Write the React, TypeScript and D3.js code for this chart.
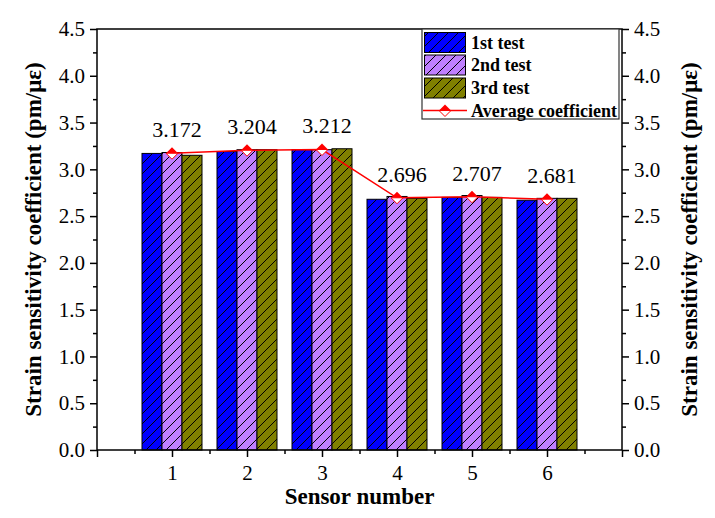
import React, { useEffect, useRef } from 'react';
import * as d3 from 'd3';

const sensors = [1, 2, 3, 4, 5, 6];
const firstTest = [3.17, 3.19, 3.21, 2.68, 2.7, 2.67];
const secondTest = [3.18, 3.21, 3.21, 2.71, 2.72, 2.69];
const thirdTest = [3.15, 3.21, 3.22, 2.69, 2.7, 2.69];
const averageCoef = [3.172, 3.204, 3.212, 2.696, 2.707, 2.681];
const seriesNames = ['1st test', '2nd test', '3rd test'];
const seriesColors = ['#0000ff', '#bf7fff', '#808000'];
const lineName = 'Average coefficient';
const yTitle = 'Strain sensitivity coefficient (pm/\u03bc\u03b5)';
const xTitle = 'Sensor number';

const FONT = "'Liberation Serif', 'Times New Roman', Times, serif";

export default function App() {
  const ref = useRef<SVGSVGElement>(null);

  useEffect(() => {
    const width = 715;
    const height = 518;
    const margin = { top: 29, right: 93, bottom: 68, left: 97 };
    const innerW = width - margin.left - margin.right;
    const innerH = height - margin.top - margin.bottom;

    const svg = d3.select(ref.current);
    svg.selectAll('*').remove();
    svg.attr('width', width).attr('height', height).style('font-family', FONT);

    svg.append('rect').attr('width', width).attr('height', height).attr('fill', '#fff');

    // hatch patterns
    const defs = svg.append('defs');
    seriesColors.forEach((c, i) => {
      const p = defs.append('pattern')
        .attr('id', `hatch${i}`)
        .attr('patternUnits', 'userSpaceOnUse')
        .attr('width', 10)
        .attr('height', 10);
      p.append('rect').attr('width', 10).attr('height', 10).attr('fill', c);
      p.append('path')
        .attr('d', 'M0,10 L10,0 M-3,3 L3,-3 M7,13 L13,7')
        .attr('stroke', '#000')
        .attr('stroke-width', 1);
    });

    const x = d3.scaleLinear().domain([0, 7]).range([0, innerW]);
    const y = d3.scaleLinear().domain([0, 4.5]).range([innerH, 0]);
    const inner = d3.scaleBand<number>().domain([0, 1, 2]).range([-30, 30]).padding(0);

    const g = svg.append('g').attr('transform', `translate(${margin.left},${margin.top})`);

    const series = [firstTest, secondTest, thirdTest];

    // bars
    series.forEach((vals, si) => {
      g.append('g')
        .selectAll('rect')
        .data(vals)
        .enter()
        .append('rect')
        .attr('x', (d, i) => x(sensors[i]) + (inner(si) as number))
        .attr('y', d => y(d))
        .attr('width', inner.bandwidth())
        .attr('height', d => innerH - y(d))
        .attr('fill', `url(#hatch${si})`)
        .attr('stroke', '#000')
        .attr('stroke-width', 1);
    });

    // average line
    const line = d3.line<number>()
      .x((d, i) => x(sensors[i]))
      .y(d => y(d));
    g.append('path')
      .datum(averageCoef)
      .attr('d', line)
      .attr('fill', 'none')
      .attr('stroke', '#ff0000')
      .attr('stroke-width', 1.5);

    const drawMarker = (sel: any, cx: number, cy: number) => {
      const w = 6, h = 6;
      sel.append('path')
        .attr('d', `M${cx - w},${cy} L${cx},${cy - h} L${cx + w},${cy} Z`)
        .attr('fill', '#ff0000');
      sel.append('path')
        .attr('d', `M${cx - w},${cy} L${cx},${cy + h} L${cx + w},${cy} Z`)
        .attr('fill', '#fff')
        .attr('stroke', '#ff0000')
        .attr('stroke-width', 1);
    };
    averageCoef.forEach((v, i) => drawMarker(g, x(sensors[i]), y(v)));

    // value labels
    g.append('g')
      .selectAll('text')
      .data(averageCoef)
      .enter()
      .append('text')
      .attr('x', (d, i) => x(sensors[i]) + 5)
      .attr('y', d => y(d) - 16)
      .attr('text-anchor', 'middle')
      .style('font-family', FONT)
      .style('font-size', '22px')
      .text(d => d3.format('.3f')(d));

    // axes
    const styleAxis = (a: any) => {
      a.attr('font-family', null).attr('font-size', null);
      a.select('.domain').remove();
      a.selectAll('line').attr('stroke', '#000').attr('stroke-width', 1.5);
      a.selectAll('text')
        .style('font-family', FONT)
        .style('font-size', '21px')
        .attr('fill', '#000');
    };

    const yMajor = d3.range(0, 4.51, 0.5);
    const yMinor = d3.range(0.25, 4.5, 0.5);
    const xMinor = d3.range(0.5, 7, 1);

    g.append('g')
      .call(d3.axisLeft(y).tickValues(yMajor).tickSize(7).tickPadding(5).tickFormat(d3.format('.1f')))
      .call(styleAxis);
    g.append('g')
      .call(d3.axisLeft(y).tickValues(yMinor).tickSize(4).tickFormat(() => ''))
      .call(styleAxis);
    g.append('g')
      .attr('transform', `translate(${innerW},0)`)
      .call(d3.axisRight(y).tickValues(yMajor).tickSize(7).tickPadding(5).tickFormat(d3.format('.1f')))
      .call(styleAxis);
    g.append('g')
      .attr('transform', `translate(${innerW},0)`)
      .call(d3.axisRight(y).tickValues(yMinor).tickSize(4).tickFormat(() => ''))
      .call(styleAxis);
    g.append('g')
      .attr('transform', `translate(0,${innerH})`)
      .call(d3.axisBottom(x).tickValues(sensors).tickSize(7).tickPadding(8).tickFormat(d3.format('d')))
      .call(styleAxis);
    g.append('g')
      .attr('transform', `translate(0,${innerH})`)
      .call(d3.axisBottom(x).tickValues([0, 7]).tickSize(7).tickFormat(() => ''))
      .call(styleAxis);
    g.append('g')
      .attr('transform', `translate(0,${innerH})`)
      .call(d3.axisBottom(x).tickValues(xMinor).tickSize(4).tickFormat(() => ''))
      .call(styleAxis);

    // frame
    g.append('rect')
      .attr('width', innerW)
      .attr('height', innerH)
      .attr('fill', 'none')
      .attr('stroke', '#000')
      .attr('stroke-width', 1.5);

    const title = (t: any) => t
      .attr('text-anchor', 'middle')
      .style('font-family', FONT)
      .style('font-weight', 'bold')
      .style('font-size', '23px');

    // axis titles
    svg.append('text')
      .attr('transform', `translate(41,${margin.top + innerH / 2}) rotate(-90)`)
      .call(title)
      .text(yTitle);
    svg.append('text')
      .attr('transform', `translate(697,${margin.top + innerH / 2}) rotate(-90)`)
      .call(title)
      .text(yTitle);
    svg.append('text')
      .attr('x', margin.left + x(3.5))
      .attr('y', 504)
      .call(title)
      .text(xTitle);

    // legend
    const lg = svg.append('g').attr('transform', 'translate(422,29)');
    lg.append('rect')
      .attr('width', 197)
      .attr('height', 90)
      .attr('fill', '#fff')
      .attr('stroke', '#333')
      .attr('stroke-width', 1.2);
    const rowY = [13.5, 36, 59, 81.5];
    const legendText = (t: any) => t
      .attr('x', 49)
      .attr('dy', '0.35em')
      .style('font-family', FONT)
      .style('font-weight', 'bold')
      .style('font-size', '18px');
    seriesNames.forEach((name, i) => {
      lg.append('rect')
        .attr('x', 2.5)
        .attr('y', rowY[i] - 10)
        .attr('width', 41)
        .attr('height', 20)
        .attr('fill', `url(#hatch${i})`)
        .attr('stroke', '#000')
        .attr('stroke-width', 1);
      lg.append('text')
        .attr('y', rowY[i])
        .call(legendText)
        .text(name);
    });
    lg.append('line')
      .attr('x1', 1).attr('x2', 45)
      .attr('y1', rowY[3]).attr('y2', rowY[3])
      .attr('stroke', '#ff0000')
      .attr('stroke-width', 1.5);
    drawMarker(lg, 23, rowY[3]);
    lg.append('text')
      .attr('y', rowY[3])
      .call(legendText)
      .text(lineName);
  }, []);

  return (
    <svg ref={ref} style={{ position: 'absolute', left: 0, top: 0, display: 'block' }} />
  );
}
